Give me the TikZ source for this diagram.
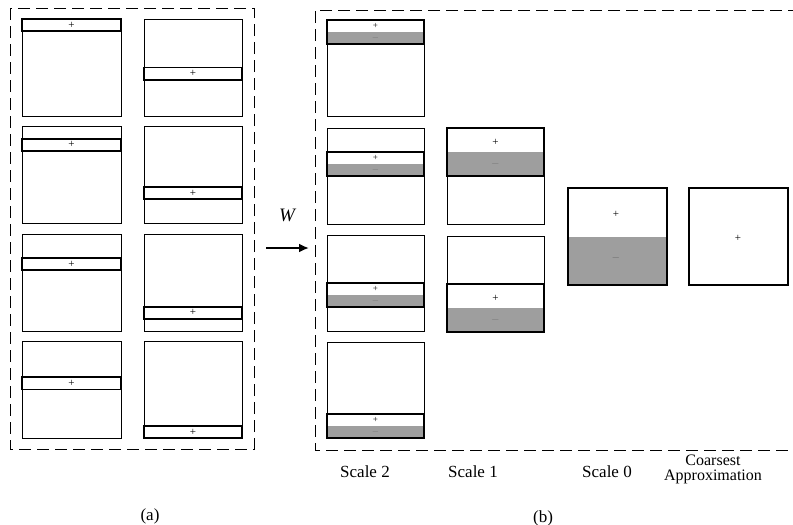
\documentclass[tikz,border=0pt]{standalone}
\usepackage{fontspec}
\setmainfont{Liberation Serif}
\usetikzlibrary{arrows.meta}
\tikzset{
  sq/.style={draw=black, line width=0.9pt},
  band/.style={draw=black, line width=1.8pt},
  tband/.style={draw=black, line width=1.4pt},
  grey/.style={fill=black!38},
  pm/.style={font=\fontsize{11}{11}\selectfont, inner sep=0pt},
  pms/.style={font=\fontsize{9}{9}\selectfont, inner sep=0pt},
  lbl/.style={font=\fontsize{17}{17}\selectfont, inner sep=0pt},
  frame/.style={draw=black, line width=1pt, dash pattern=on 12pt off 6pt},
}
\begin{document}
\begin{tikzpicture}[x=1pt,y=-1pt]
\useasboundingbox (0,0) rectangle (793,525);
% ---------- panel (a)
\draw[frame] (10,8) rectangle (254,449);
\foreach \r/\yy in {0/19,1/126.5,2/234,3/341}{
  % left column: band position r
  \draw[sq] (22,\yy) rectangle ++(99,97);
  \pgfmathsetmacro\by{\yy+\r*12.125}
  \draw[band] (22,\by) rectangle ++(99,12.125);
  \node[pm] (pa\r) at (71.5,\by+6.06) {+};
  % right column: band position r+4
  \draw[sq] (144,\yy) rectangle ++(98,97);
  \pgfmathsetmacro\bz{\yy+(\r+4)*12.125}
  \draw[band] (144,\bz) rectangle ++(98,12.125);
  \node[pm] (pb\r) at (193,\bz+6.06) {+};
}
% ---------- arrow W
\node[font=\fontsize{19}{19}\selectfont\itshape, inner sep=0pt] (W) at (287,215) {W};
\coordinate (arrA) at (266,248);
\coordinate (arrB) at (309,248);
\draw[line width=2.6pt, -{Latex[length=10pt,width=9pt]}] (arrA) -- (arrB);
% ---------- panel (b)
\draw[frame] (800,10) -- (315,10) -- (315,450) -- (800,450);
% scale 2
\foreach \r/\yy in {0/20,1/128,2/235,3/342}{
  \draw[sq] (327,\yy) rectangle ++(97,96);
  \pgfmathsetmacro\by{\yy+\r*24}
  \fill[grey] (327,\by+12) rectangle ++(97,12);
  \draw[tband] (327,\by) rectangle ++(97,24);
  \node[pms] (s2p\r) at (375.5,\by+5.5) {+};
  \node[pms, text=black!55] (s2m\r) at (375.5,\by+18.5) {$-$};
}
% scale 1
\foreach \r/\yy in {0/128,1/236}{
  \draw[sq] (447,\yy) rectangle ++(97,96);
  \pgfmathsetmacro\by{\yy+\r*48}
  \fill[grey] (447,\by+24) rectangle ++(97,24);
  \draw[band] (447,\by) rectangle ++(97,48);
  \node[pm] (s1p\r) at (495.5,\by+14) {+};
  \node[pm, text=black!55] (s1m\r) at (495.5,\by+36) {$-$};
}
% scale 0
\fill[grey] (568,237) rectangle (667,285);
\draw[band] (568,188) rectangle (667,285);
\node[pm] (s0p) at (616,214) {+};
\node[pm, text=black!60] (s0m) at (616,258) {$-$};
% coarsest
\draw[band] (689,188) rectangle (788,285);
\node[pm] (cp) at (738,238) {+};
% ---------- labels
\node[lbl] (l2) at (365,472) {Scale 2};
\node[lbl] (l1) at (473,472) {Scale 1};
\node[lbl] (l0) at (607,472) {Scale 0};
\node[lbl, align=center, font=\fontsize{16}{15}\selectfont] (lc) at (713,469) {Coarsest\\Approximation};
\node[lbl] (la) at (150,516) {(a)};
\node[lbl] (lb) at (543,518) {(b)};
\end{tikzpicture}
\end{document}
